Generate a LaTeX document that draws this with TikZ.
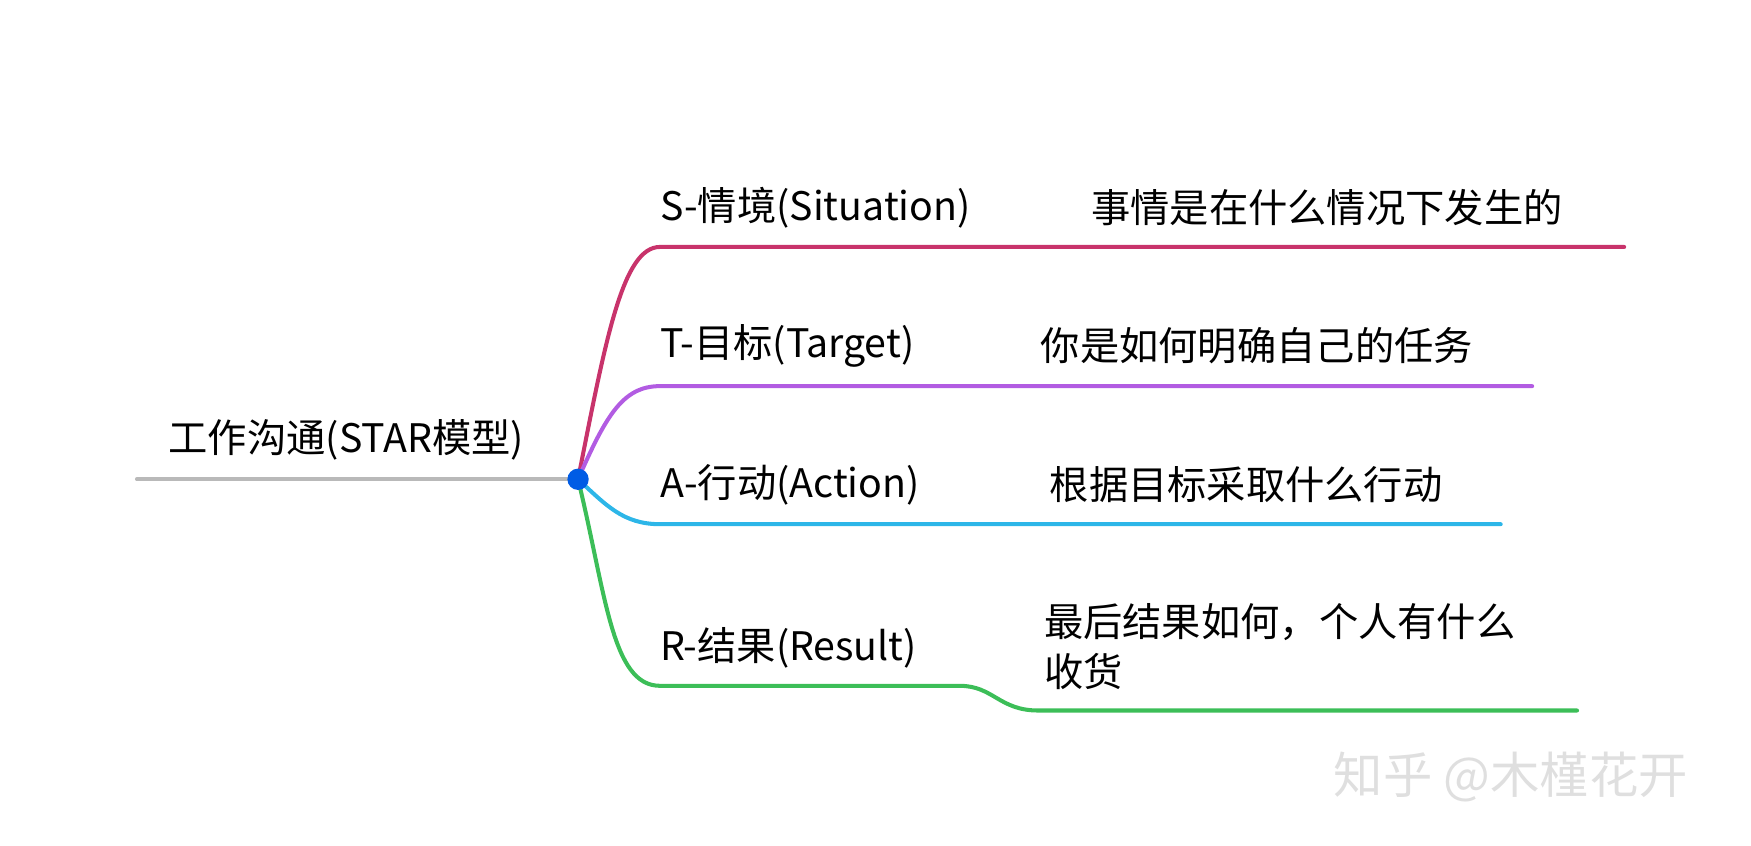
\documentclass[tikz,border=0pt]{standalone}
\usepackage{fontspec}
\setmainfont{Noto Sans CJK SC}
\begin{document}
\begin{tikzpicture}[x=1pt,y=-1pt,
  br/.style={line width=3.6pt,line cap=round},
  lab/.style={anchor=west,inner sep=0pt,font=\fontsize{35}{44}\selectfont},
  ]
\useasboundingbox (0,0) rectangle (1560,753);
\definecolor{cS}{HTML}{C8336B}\definecolor{cT}{HTML}{B25CE2}
\definecolor{cA}{HTML}{2DB6E8}\definecolor{cR}{HTML}{3CBE58}
\coordinate (L) at (122,427);
\coordinate (C) at (515,427);
\coordinate (s1) at (588,220);\coordinate (s2) at (1447,220);
\coordinate (t1) at (588,344);\coordinate (t2) at (1365,344);
\coordinate (a1) at (588,467);\coordinate (a2) at (1337,467);
\coordinate (r1) at (588,611);\coordinate (r2) at (855,611);
\coordinate (r3) at (925,633);\coordinate (r4) at (1405,633);
\draw[br,gray!55] (L) -- (C);
\draw[br,cS] (C) .. controls (540,300) and (555,220) .. (s1) -- (s2);
\draw[br,cT] (C) .. controls (540,370) and (555,344) .. (t1) -- (t2);
\draw[br,cA] (C) .. controls (540,450) and (555,467) .. (a1) -- (a2);
\draw[br,cR] (C) .. controls (540,530) and (545,611) .. (r1) -- (r2) .. controls (885,611) and (890,633) .. (r3) -- (r4);
\fill[blue!60!cyan!90!black] (C) circle (9.5);
\node[lab] (root) at (150,392) {工作沟通(STAR模型)};
\node[lab] (S) at (588,185) {S-情境(Situation)};
\node[lab] (Sd) at (972,185) {事情是在什么情况下发生的};
\node[lab] (T) at (588,308) {T-目标(Target)};
\node[lab] (Td) at (927,308) {你是如何明确自己的任务};
\node[lab] (A) at (588,432) {A-行动(Action)};
\node[lab] (Ad) at (935,432) {根据目标采取什么行动};
\node[lab] (R) at (588,577) {R-结果(Result)};
\node[lab,align=left] (Rd) at (930,576) {最后结果如何，个人有什么\\收货};
\node[lab,text=gray!25,font=\fontsize{44}{48}\selectfont] (wm) at (1188,692) {知乎 @木槿花开};
\end{tikzpicture}
\end{document}
